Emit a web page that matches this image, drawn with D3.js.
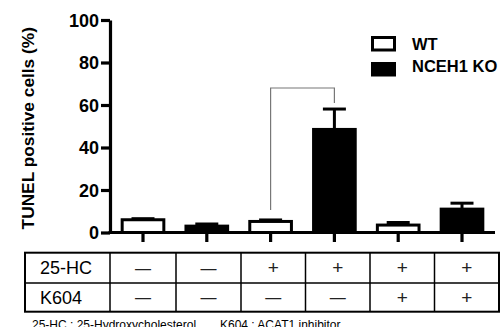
<!DOCTYPE html>
<html>
<head>
<meta charset="utf-8">
<script src="https://cdn.jsdelivr.net/npm/d3@7/dist/d3.min.js"></script>
<style>
  html, body { margin: 0; padding: 0; background: #fff; }
  svg { display: block; font-family: Arial, "Liberation Sans", sans-serif; }
</style>
</head>
<body>
<svg id="chart" width="501" height="327"></svg>
<script>
// ---- data ----
const groups = ["g1", "g2", "g3", "g4", "g5", "g6"];
const genotype = ["WT", "NCEH1 KO", "WT", "NCEH1 KO", "WT", "NCEH1 KO"];
const values = [6, 3, 5.2, 48.5, 3.5, 11];
const errors = [0.5, 1.0, 0.7, 9.6, 1.2, 2.8];
const yTicks = [0, 20, 40, 60, 80, 100];
const rowLabels = ["25-HC", "K604"];
const hcRow = ["\u2014", "\u2014", "+", "+", "+", "+"];
const k604Row = ["\u2014", "\u2014", "\u2014", "\u2014", "+", "+"];
const legendLabels = ["WT", "NCEH1 KO"];
const yTitle = "TUNEL positive cells (%)";
const footnote1 = "25-HC : 25-Hydroxycholesterol";
const footnote2 = "K604 : ACAT1 inhibitor";
// significance bracket between group 3 and group 4 (value levels)
const bracket = { from: 2, to: 3, leftLow: 10.6, top: 68, rightLow: 61 };

// ---- layout ----
const svg = d3.select("#chart");
const y = d3.scaleLinear().domain([0, 100]).range([232.5, 20]);
const x = d3.scalePoint().domain(groups).range([143, 462]);
const step = x.step();
const barW = step * 0.7;

// bracket
svg.append("path")
  .attr("d", `M${x(groups[bracket.from])},${y(bracket.leftLow)}V${y(bracket.top)}H${x(groups[bracket.to])}V${y(bracket.rightLow)}`)
  .attr("fill", "none").attr("stroke", "#777").attr("stroke-width", 1.2);

// error bars
const eg = svg.append("g").attr("stroke", "#000").attr("stroke-width", 3);
groups.forEach((g, i) => {
  const cx = x(g);
  eg.append("line").attr("x1", cx).attr("x2", cx).attr("y1", y(values[i])).attr("y2", y(values[i] + errors[i]));
  eg.append("line").attr("x1", cx - 11.5).attr("x2", cx + 11.5).attr("y1", y(values[i] + errors[i])).attr("y2", y(values[i] + errors[i]));
});

// bars
groups.forEach((g, i) => {
  const wt = genotype[i] === "WT";
  svg.append("rect")
    .attr("x", x(g) - barW / 2 + 1.5)
    .attr("width", barW - 3)
    .attr("y", y(values[i]))
    .attr("height", y(0) - y(values[i]))
    .attr("fill", wt ? "#fff" : "#000")
    .attr("stroke", "#000")
    .attr("stroke-width", 3);
});

// y axis
const yAxis = svg.append("g").attr("transform", "translate(110,0)")
  .call(d3.axisLeft(y).tickValues(yTicks).tickSize(9).tickPadding(2).tickSizeOuter(0));
yAxis.select(".domain").attr("stroke-width", 3.2);
yAxis.selectAll(".tick line").attr("stroke-width", 3.2);
yAxis.selectAll(".tick text").attr("font-size", 18).attr("font-weight", "bold")
  .attr("font-family", "Arial, 'Liberation Sans', sans-serif").attr("fill", "#000").attr("dy", "0.36em");

// x axis line + ticks
svg.append("line").attr("x1", 108.5).attr("x2", 495).attr("y1", y(0)).attr("y2", y(0))
  .attr("stroke", "#000").attr("stroke-width", 3.2);
svg.append("g").selectAll("line").data(groups).join("line")
  .attr("x1", d => x(d)).attr("x2", d => x(d))
  .attr("y1", y(0)).attr("y2", y(0) + 9.5)
  .attr("stroke", "#000").attr("stroke-width", 3.2);

// y title
svg.append("text")
  .attr("transform", `translate(34,${(y(0) + y(100)) / 2 + 2}) rotate(-90)`)
  .attr("text-anchor", "middle")
  .attr("font-size", 17.3).attr("font-weight", "bold")
  .text(yTitle);

// legend
const lg = svg.append("g");
lg.append("rect").attr("x", 372.5).attr("y", 37.5).attr("width", 22).attr("height", 12.5)
  .attr("fill", "#fff").attr("stroke", "#000").attr("stroke-width", 3);
lg.append("rect").attr("x", 371).attr("y", 62).attr("width", 25).attr("height", 14.5).attr("fill", "#000");
lg.append("text").attr("x", 412).attr("y", 50).attr("font-size", 16.5).attr("font-weight", "bold").text(legendLabels[0]);
lg.append("text").attr("x", 412).attr("y", 72).attr("font-size", 16.5).attr("font-weight", "bold").text(legendLabels[1]);

// table
const colEdges = [25, 110, 176, 241, 305.5, 370, 434.5, 499];
const rowEdges = [252.7, 283, 311.7];
const tg = svg.append("g").attr("stroke", "#000").attr("stroke-width", 1.5);
tg.append("rect").attr("x", colEdges[0]).attr("y", rowEdges[0])
  .attr("width", colEdges[colEdges.length - 1] - colEdges[0])
  .attr("height", rowEdges[2] - rowEdges[0]).attr("fill", "none").attr("stroke-width", 2);
colEdges.slice(1, -1).forEach(cx => tg.append("line").attr("x1", cx).attr("x2", cx).attr("y1", rowEdges[0]).attr("y2", rowEdges[2]));
tg.append("line").attr("x1", colEdges[0]).attr("x2", colEdges[colEdges.length - 1]).attr("y1", rowEdges[1]).attr("y2", rowEdges[1]);

const rows = [hcRow, k604Row];
rows.forEach((row, r) => {
  const cy = (rowEdges[r] + rowEdges[r + 1]) / 2;
  svg.append("text").attr("x", 40).attr("y", cy).attr("dy", "0.36em")
    .attr("font-size", 18).text(rowLabels[r]);
  row.forEach((m, c) => {
    const cx = (colEdges[c + 1] + colEdges[c + 2]) / 2;
    svg.append("text").attr("x", cx).attr("y", cy).attr("dy", m === "+" ? "0.34em" : "0.36em")
      .attr("text-anchor", "middle").attr("font-size", m === "+" ? 19 : 16).attr("fill", "#222").text(m);
  });
});

// footnote
svg.append("text").attr("x", 32).attr("y", 328.5).attr("font-size", 12).text(footnote1);
svg.append("text").attr("x", 220).attr("y", 328.5).attr("font-size", 12).text(footnote2);
</script>
</body>
</html>
